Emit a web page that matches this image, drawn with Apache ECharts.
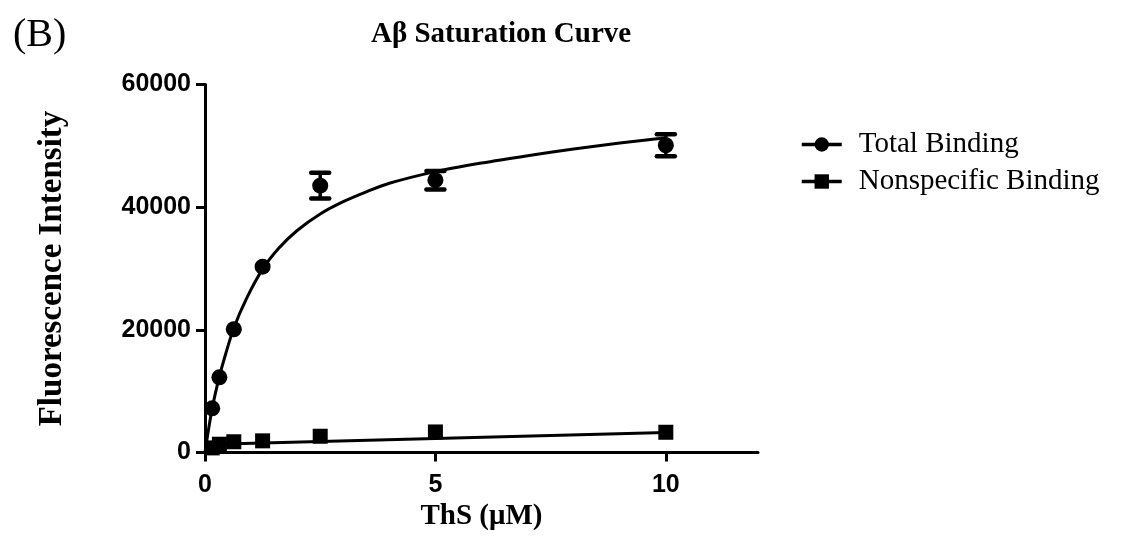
<!DOCTYPE html>
<html>
<head>
<meta charset="utf-8">
<script src="https://cdn.jsdelivr.net/npm/echarts@6/dist/echarts.min.js"></script>
<style>
  html, body { margin: 0; padding: 0; background: #fff; }
  #main { width: 1122px; height: 545px; }
</style>
</head>
<body>
<div id="main"></div>
<script>
// ThS concentrations (uM)
var conc = [0.156, 0.3125, 0.625, 1.25, 2.5, 5, 10];
var totalMean = [7200, 12250, 20100, 30300, 43500, 44400, 50100];
var totalErr = [0, 0, 0, 0, 2100, 1500, 1800];
var nonspecMean = [750, 1350, 1750, 1900, 2650, 3350, 3300];

// fitted curves as drawn in the figure (x, y read at sample points)
var totalFitX = [0, 0.05, 0.156, 0.3125, 0.45, 0.625, 0.9, 1.25, 1.6, 2.0, 2.5, 3.0, 3.5, 4.0, 5, 6, 7, 8, 9, 10];
var totalFitY = [0, 2500, 7200, 12400, 16100, 20300, 25100, 29900, 33300, 36200, 38900, 40900, 42500, 43900, 45800, 47200, 48400, 49500, 50450, 51300];
var nonspecFitX = [0, 10];
var nonspecFitY = [1300, 3250];

var serif = "'Liberation Serif', 'Times New Roman', serif";
var sans = "'Liberation Sans', Arial, sans-serif";

function pairs(xs, ys) {
  var out = [];
  for (var i = 0; i < xs.length; i++) out.push([xs[i], ys[i]]);
  return out;
}

var errData = [];
for (var i = 0; i < conc.length; i++) {
  if (totalErr[i] > 0) {
    errData.push([conc[i], totalMean[i] - totalErr[i], totalMean[i] + totalErr[i]]);
  }
}

var myChart = echarts.init(document.getElementById("main"));

var option = {
  animation: false,
  backgroundColor: "#fff",
  title: [
    {
      text: "(B)",
      left: 8,
      top: 10,
      textStyle: { fontFamily: serif, fontWeight: "normal", fontSize: 40, color: "#000" }
    },
    {
      text: "Aβ Saturation Curve",
      left: 366,
      top: 15,
      textStyle: { fontFamily: serif, fontWeight: "bold", fontSize: 29, color: "#000" }
    }
  ],
  legend: {
    data: ["Total Binding", "Nonspecific Binding"],
    orient: "vertical",
    left: 795,
    top: 125,
    itemWidth: 40,
    itemHeight: 18,
    itemGap: 8,
    lineStyle: { width: 3.5 },
    textStyle: {
      fontFamily: serif,
      fontSize: 29,
      color: "#000",
      padding: [0, 0, 0, 12]
    }
  },
  grid: {
    left: 205,
    right: 364,
    top: 84.5,
    bottom: 92.5,
    containLabel: false
  },
  xAxis: {
    type: "value",
    min: 0,
    max: 12,
    interval: 5,
    name: "ThS (μM)",
    nameLocation: "middle",
    nameGap: 50,
    nameTextStyle: { fontFamily: serif, fontWeight: "bold", fontSize: 29, color: "#000" },
    axisLine: { lineStyle: { color: "#000", width: 3 } },
    axisTick: { length: 9, lineStyle: { color: "#000", width: 3 }, customValues: [0, 5, 10] },
    axisLabel: {
      customValues: [0, 5, 10],
      margin: 20,
      fontFamily: sans,
      fontWeight: "bold",
      fontSize: 25,
      color: "#000"
    },
    splitLine: { show: false }
  },
  yAxis: {
    type: "value",
    min: 0,
    max: 60000,
    interval: 20000,
    name: "Fluorescence Intensity",
    nameLocation: "middle",
    nameGap: 136,
    nameTextStyle: { fontFamily: serif, fontWeight: "bold", fontSize: 33, color: "#000" },
    axisLine: { show: true, lineStyle: { color: "#000", width: 3 } },
    axisTick: { show: true, length: 9, lineStyle: { color: "#000", width: 3 } },
    axisLabel: {
      margin: 14,
      fontFamily: sans,
      fontWeight: "bold",
      fontSize: 25,
      color: "#000",
      formatter: function(v) { return String(v); }
    },
    splitLine: { show: false }
  },
  series: [
    {
      name: "Total Binding",
      type: "line",
      data: pairs(totalFitX, totalFitY),
      smooth: 0.3,
      symbol: "circle",
      showSymbol: false,
      lineStyle: { color: "#000", width: 3 },
      itemStyle: { color: "#000" },
      z: 2
    },
    {
      name: "Nonspecific Binding",
      type: "line",
      data: pairs(nonspecFitX, nonspecFitY),
      symbol: "rect",
      showSymbol: false,
      lineStyle: { color: "#000", width: 3 },
      itemStyle: { color: "#000" },
      z: 2
    },
    {
      name: "Total points",
      type: "scatter",
      data: pairs(conc, totalMean),
      symbol: "circle",
      symbolSize: 16,
      itemStyle: { color: "#000", opacity: 1 },
      z: 4
    },
    {
      name: "Nonspecific points",
      type: "scatter",
      data: pairs(conc, nonspecMean),
      symbol: "rect",
      symbolSize: 15,
      itemStyle: { color: "#000", opacity: 1 },
      z: 4
    },
    {
      name: "Total error",
      type: "custom",
      data: errData,
      z: 5,
      renderItem: function(params, api) {
        var x = api.value(0);
        var lo = api.coord([x, api.value(1)]);
        var hi = api.coord([x, api.value(2)]);
        var half = 9;
        var st = { stroke: "#000", lineWidth: 4.5, lineCap: "round" };
        return {
          type: "group",
          children: [
            { type: "line", shape: { x1: lo[0], y1: lo[1], x2: hi[0], y2: hi[1] }, style: { stroke: "#000", lineWidth: 3.5 } },
            { type: "line", shape: { x1: hi[0] - half, y1: hi[1], x2: hi[0] + half, y2: hi[1] }, style: st },
            { type: "line", shape: { x1: lo[0] - half, y1: lo[1], x2: lo[0] + half, y2: lo[1] }, style: st }
          ]
        };
      }
    }
  ]
};

myChart.setOption(option);
</script>
</body>
</html>
